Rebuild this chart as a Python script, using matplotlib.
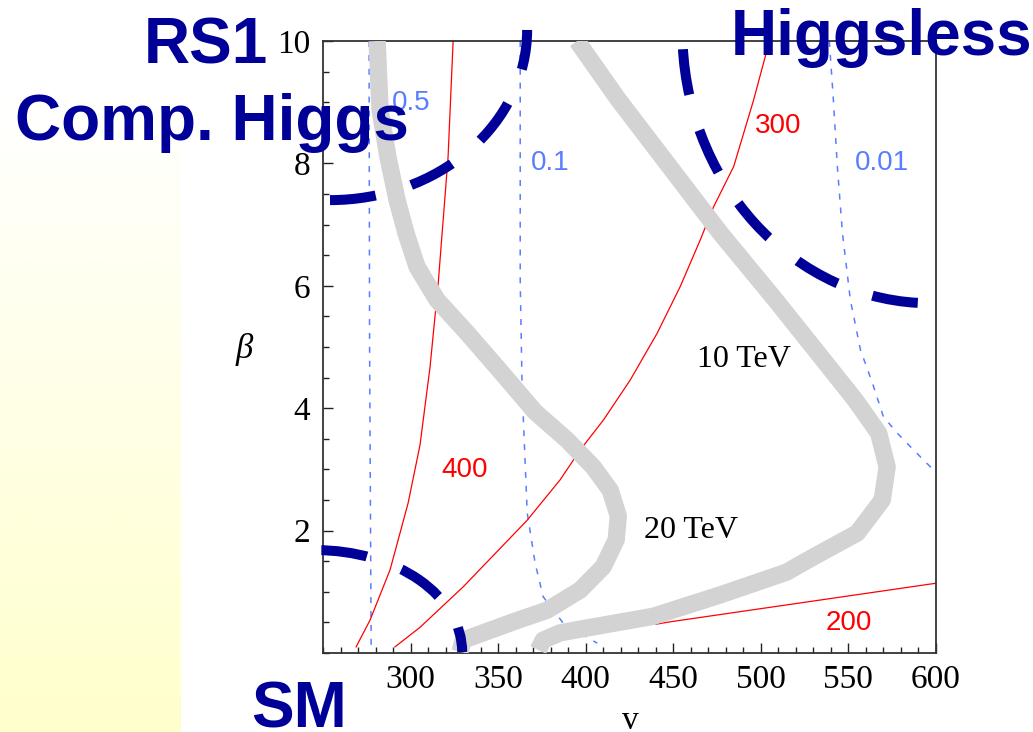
"""
Contours in the (v, beta) plane with the model regions marked on top,
redrawn from the slide picture.
"""

import numpy as np
import matplotlib
matplotlib.use("Agg")
import matplotlib.pyplot as plt
from matplotlib.patches import Arc
from matplotlib.colors import LinearSegmentedColormap
from matplotlib.ticker import MultipleLocator

W, H = 1033, 732
NAVY = '#000099'
BLUE = '#5a7dff'
GRAY = '#d3d3d3'

# ── values, (v, beta) ──
band_10tev_v = [395.1, 418.7, 476.9, 508.3, 538.7, 554.0, 567.3, 572.1, 569.3,
                555.0, 530.0, 514.6, 476.9, 438.6, 400.9, 385.4, 375.7, 372.9]
band_10tev_b = [10.0, 9.04, 6.86, 5.77, 4.68, 4.13, 3.59, 3.04, 2.50,
                1.96, 1.57, 1.32, 0.95, 0.60, 0.41, 0.33, 0.21, 0.05]

band_20tev_v = [280.9, 282.6, 287.1, 292.3, 297.4, 303.7, 315.1, 332.3, 351.1,
                371.1, 389.4, 404.3, 414.0, 418.6, 417.4, 410.0, 396.9, 378.0,
                359.7, 330.0, 328.3]
band_20tev_b = [10.0, 8.87, 8.10, 7.40, 6.86, 6.31, 5.77, 5.23, 4.61,
                3.94, 3.48, 3.04, 2.66, 2.24, 1.85, 1.41, 1.03, 0.70,
                0.52, 0.21, 0.02]

red_400_v = [324.3, 321.4, 315.7, 311.1, 305.4, 298.6, 288.3, 276.9, 268.9]
red_400_b = [10.0, 8.10, 6.01, 4.67, 3.40, 2.45, 1.36, 0.54, 0.10]

red_300_v = [504.9, 495.9, 484.5, 473.0, 465.4, 454.0, 440.7, 425.4, 410.2,
             396.9, 385.4, 366.6, 330.0, 305.4, 291.1]
red_300_b = [10.0, 9.04, 7.95, 7.29, 6.75, 5.99, 5.22, 4.46, 3.81,
             3.32, 2.83, 2.17, 1.08, 0.42, 0.10]

red_200_v = [440.0, 448.3, 600.0]
red_200_b = [0.47, 0.51, 1.14]

blue_05_v = [276.3, 276.6, 277.5]
blue_05_b = [10.0, 5.0, 0.1]

blue_01_v = [362.6, 362.6, 363.7, 366.6, 371.1, 375.7, 387.1, 406.6]
blue_01_b = [10.0, 6.09, 4.30, 2.29, 1.47, 0.92, 0.49, 0.16]

blue_001_v = [539.1, 541.4, 543.7, 546.6, 551.1, 556.9, 563.7, 570.0, 578.0,
              587.1, 598.6, 600.0]
blue_001_b = [10.0, 9.04, 7.94, 6.86, 5.77, 4.95, 4.41, 3.86, 3.59,
              3.32, 2.99, 2.94]

# contour labels: (text, v, beta at baseline, colour)
contour_labels = [('0.5', 300.3, 8.87, BLUE), ('0.1', 379.7, 7.89, BLUE),
                  ('0.01', 569.4, 7.89, BLUE), ('300', 510.0, 8.50, 'red'),
                  ('400', 330.6, 2.88, 'red'), ('200', 550.0, 0.376, 'red')]
band_labels = [('10 TeV', 490.6, 4.67), ('20 TeV', 460.3, 1.88)]

# region arcs: (center v, center beta, width, height, theta1, theta2, dash offset)
region_arcs = [(254.0, 10.18, 225.1, 5.56, -90, 0, 0.0),     # Comp. Higgs
               (596.9, 10.16, 283.4, 8.89, 180, 270, 6.5),   # Higgsless
               (246.0, 0.016, 166.9, 3.33, 0, 90, 2.1)]      # SM

XTICKS = [300, 350, 400, 450, 500, 550, 600]
YTICKS = [2, 4, 6, 8, 10]

plt.rcParams['font.family'] = ['Liberation Serif', 'DejaVu Serif']

fig = plt.figure(figsize=(W / 100, H / 100), dpi=100)

def fx(px):
    return px / W

def fy(py):
    return 1 - py / H

# ── pale yellow panel on the left of the slide ──
bg = fig.add_axes([0, 0, fx(181), 1], zorder=-10)
rows = np.clip((np.arange(H) - 100) / (H - 100), 0, 1)[:, None]
cmap = LinearSegmentedColormap.from_list('slide', ['#ffffff', '#ffffcc'])
bg.imshow(rows, aspect='auto', cmap=cmap, vmin=0, vmax=1,
          interpolation='bilinear', extent=(0, 1, 1, 0))
bg.axis('off')

# ── main frame ──
ax = fig.add_axes([fx(323), fy(653), fx(936) - fx(323), fy(41) - fy(653)])
ax.set_xlim(250, 600)
ax.set_ylim(0, 10)
ax.set_xticks(XTICKS)
ax.set_yticks(YTICKS)
ax.xaxis.set_minor_locator(MultipleLocator(10))
ax.yaxis.set_minor_locator(MultipleLocator(0.5))
ax.tick_params(which='both', direction='in', top=False, right=False,
               color='#222222', width=1)
ax.tick_params(which='major', length=7, labelsize=24)
ax.tick_params(which='minor', length=4)
ax.tick_params(axis='x', pad=8)
ax.tick_params(axis='y', pad=9)
for sp in ax.spines.values():
    sp.set_color('#333333')
    sp.set_linewidth(1.3)

dots = (0, (3.9, 5.2))
ax.plot(blue_05_v, blue_05_b, color=BLUE, lw=1.1, ls=dots, zorder=2)
ax.plot(blue_01_v, blue_01_b, color=BLUE, lw=1.1, ls=dots, zorder=2)
ax.plot(blue_001_v, blue_001_b, color=BLUE, lw=1.1, ls=dots, zorder=2)

ax.plot(red_400_v, red_400_b, color='red', lw=0.9, zorder=2)
ax.plot(red_300_v, red_300_b, color='red', lw=0.9, zorder=2)
ax.plot(red_200_v, red_200_b, color='red', lw=0.9, zorder=2)

for bv, bb in [(band_10tev_v, band_10tev_b), (band_20tev_v, band_20tev_b)]:
    ax.plot(bv, bb, color=GRAY, lw=12.5, solid_capstyle='butt',
            solid_joinstyle='round', zorder=4)

for txt, v, b, col in contour_labels:
    ax.text(v, b, txt, color=col, fontsize=20, family='Liberation Sans',
            ha='center', va='baseline', zorder=5)
for txt, v, b in band_labels:
    ax.text(v, b, txt, color='black', fontsize=23, ha='center',
            va='baseline', zorder=5)

for cv, cb, wd, ht, t1, t2, off in region_arcs:
    ax.add_patch(Arc((cv, cb), wd, ht, theta1=t1, theta2=t2, color=NAVY,
                     lw=7.2, ls=(off, (4.6, 3.7)), clip_on=False, zorder=6))

# axis labels
fig.text(fx(244), fy(350), 'β', fontsize=25, style='italic',
         ha='center', va='center')
fig.text(fx(630), fy(729), 'v', fontsize=24, ha='center', va='baseline')

# region names on the slide
big = dict(fontsize=46, weight='bold', family='Liberation Sans', color=NAVY,
           va='baseline')
fig.text(fx(268), fy(63), 'RS1', ha='right', **big)
fig.text(fx(15), fy(140), 'Comp. Higgs', ha='left', **big)
fig.text(fx(731), fy(55), 'Higgsless', ha='left', **big)
fig.text(fx(251), fy(727), 'SM', ha='left', **big)

fig.savefig('out.png', dpi=100)
print("Saved out.png")
